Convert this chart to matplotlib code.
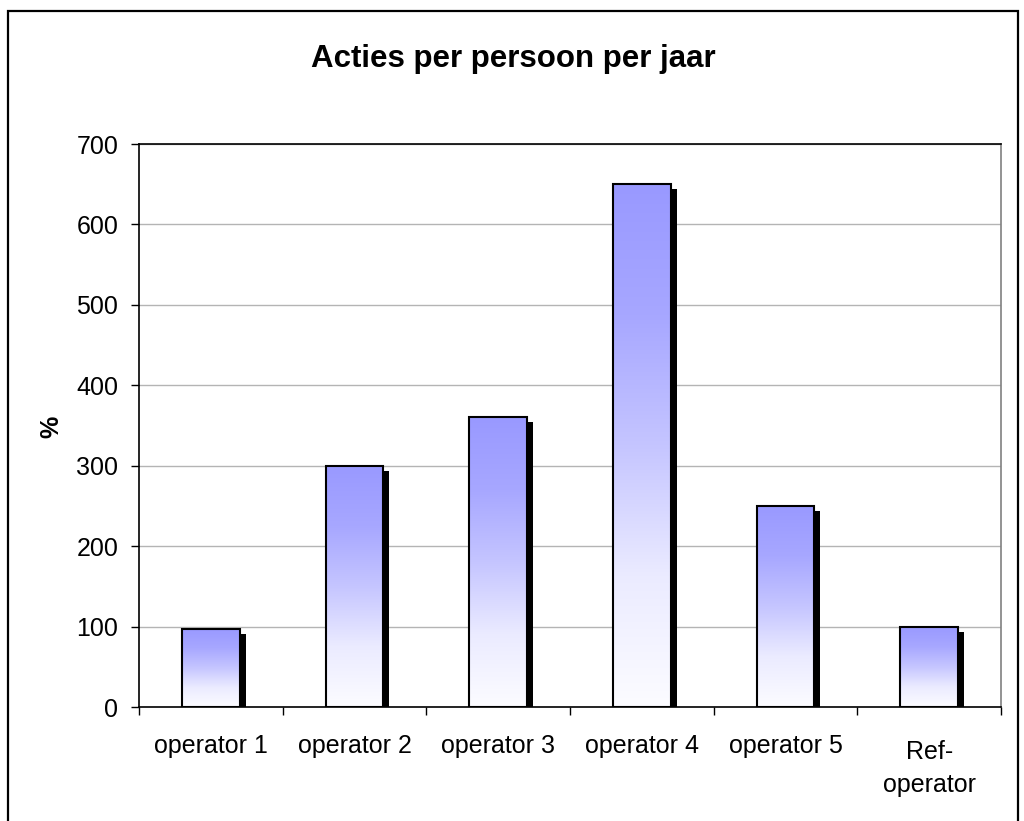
import numpy as np
import matplotlib
matplotlib.use("Agg")
import matplotlib.pyplot as plt
import matplotlib.transforms as mtransforms
from matplotlib.patches import Rectangle

plt.rcParams['font.family'] = ['Liberation Sans', 'DejaVu Sans']

categories = ["operator 1", "operator 2", "operator 3", "operator 4", "operator 5", "Ref-\noperator"]
values = [97, 300, 360, 650, 250, 100]
yticks = [0, 100, 200, 300, 400, 500, 600, 700]
title = "Acties per persoon per jaar"
ylabel = "%"

W, H = 1024, 821
fig = plt.figure(figsize=(W / 100, H / 100), dpi=100)
fig.patch.set_facecolor("white")
ax = fig.add_axes([139 / W, 1 - 707 / H, (1001 - 139) / W, (707 - 144) / H])

x = np.arange(1, len(values) + 1)
bw = 0.40

# gradient fill: near white at bottom -> #9999FF at top (non-linear stops)
n = 256
t = np.linspace(0, 1, n)
stop_t = [0.0, 0.25, 0.5, 0.75, 1.0]
stop_rg = [252, 235, 197, 167, 153]
rg = np.interp(t, stop_t, stop_rg) / 255
grad = np.stack([rg, rg, np.ones_like(rg)], axis=1)[:, None, :]
grad = np.repeat(grad, 2, axis=1)

shadow_off = mtransforms.ScaledTranslation(6 / 100, -5 / 100, fig.dpi_scale_trans)
for xi, v in zip(x, values):
    sh = Rectangle((xi - bw / 2, 0), bw, v, facecolor="black", edgecolor="none",
                   transform=ax.transData + shadow_off, zorder=2, clip_on=True)
    ax.add_patch(sh)
    ax.imshow(grad, extent=(xi - bw / 2, xi + bw / 2, 0, v), origin="lower",
              aspect="auto", zorder=3, interpolation="bilinear")
    ax.add_patch(Rectangle((xi - bw / 2, 0), bw, v, facecolor="none",
                           edgecolor="black", linewidth=1.5, zorder=4))

ax.set_xlim(0.5, len(values) + 0.5)
ax.set_ylim(0, 700)
ax.set_yticks(yticks)
ax.yaxis.grid(True, color="#B4B4B4", linewidth=1.0, zorder=0)
ax.set_axisbelow(True)

ax.set_xticks(np.arange(0.5, len(values) + 1, 1.0))
ax.set_xticklabels([])
ax.tick_params(axis="x", which="major", direction="out", length=6, width=1, color="black")
ax.tick_params(axis="y", direction="out", length=6, width=1, labelsize=18, pad=9)

# category labels (last-line baseline placed in pixels below the axis)
blend = mtransforms.blended_transform_factory(ax.transData, ax.transAxes)
for xi, lab in zip(x, categories):
    dy = 85 if "\n" in lab else 46
    tr = blend + mtransforms.ScaledTranslation(0, -dy / 100, fig.dpi_scale_trans)
    ax.text(xi, 0, lab, transform=tr, ha="center", va="baseline", fontsize=18,
            linespacing=1.48, multialignment="center", clip_on=False)

for s in ["left", "bottom", "top"]:
    ax.spines[s].set_color("black")
    ax.spines[s].set_linewidth(1.2)
ax.spines["right"].set_color("#808080")
ax.spines["right"].set_linewidth(1.2)

fig.text(513 / W, 1 - 67 / H, title, ha="center", va="baseline",
         fontsize=22.5, fontweight="bold")
fig.text(51 / W, 1 - 427 / H, ylabel, ha="center", va="center", rotation=90,
         fontsize=18, fontweight="bold")

fig.add_artist(Rectangle((7.5 / W, -0.02), (1018 - 7.5) / W, 1 - 11.5 / H + 0.02,
                         transform=fig.transFigure, facecolor="none",
                         edgecolor="black", linewidth=1.6))

fig.savefig("out.png", dpi=100)
